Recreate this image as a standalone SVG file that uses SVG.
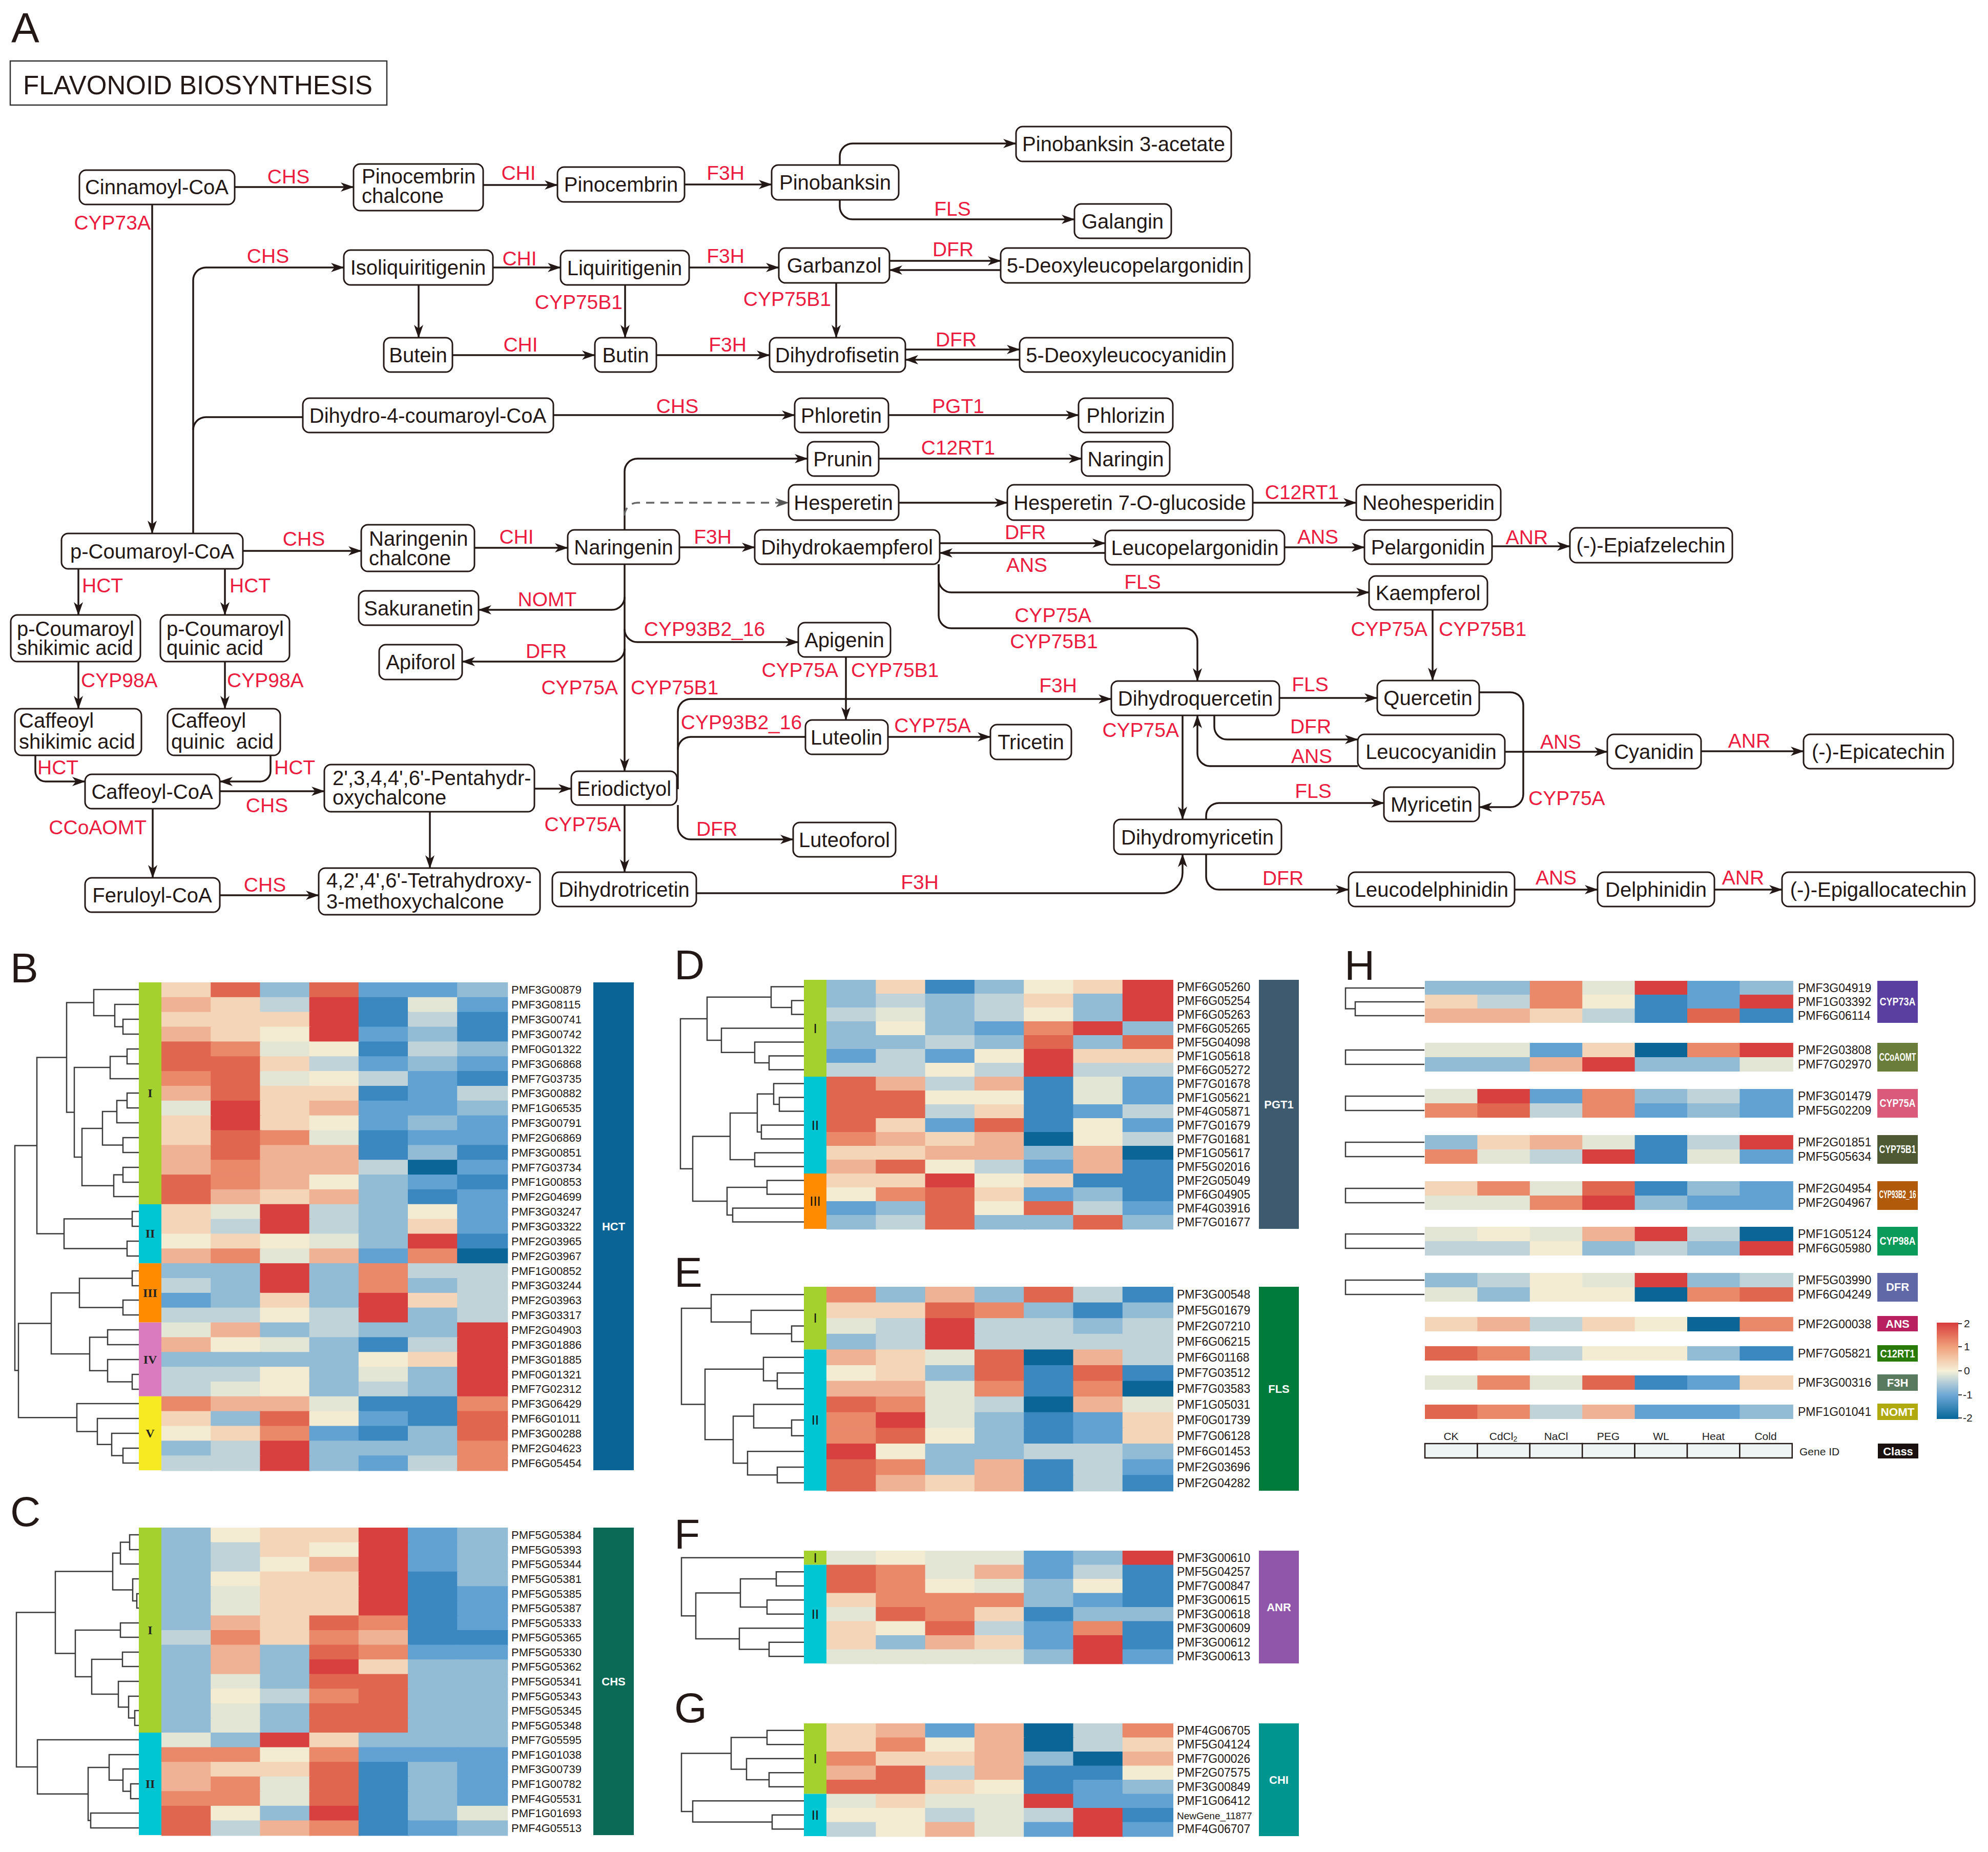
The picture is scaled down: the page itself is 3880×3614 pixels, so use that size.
<svg xmlns="http://www.w3.org/2000/svg" width="3880" height="3614" viewBox="0 0 3880 3614">
<style>
.nd rect{fill:#fff;stroke:#231815;stroke-width:3}
.t{font-family:"Liberation Sans",Arial,sans-serif;font-size:40px;fill:#231815;text-anchor:middle}
.tl{font-family:"Liberation Sans",Arial,sans-serif;font-size:40px;fill:#231815}
.e{fill:none;stroke:#231815;stroke-width:3.5;marker-end:url(#ar)}
.en{fill:none;stroke:#231815;stroke-width:3.5}
.ed{fill:none;stroke:#666;stroke-width:3.5;stroke-dasharray:16 12;marker-end:url(#ard)}
.lb,.lbr,.lbl{font-family:"Liberation Sans",Arial,sans-serif;font-size:39px;fill:#ec1c3f}
.lb{text-anchor:middle}.lbr{text-anchor:end}
.pl{font-family:"Liberation Sans",Arial,sans-serif;font-size:82px;fill:#231815}
.dg{fill:none;stroke:#3a3a3a;stroke-width:2.5}
.g{font-family:"Liberation Sans",Arial,sans-serif;font-size:22px;fill:#231815}
.g2{font-family:"Liberation Sans",Arial,sans-serif;font-size:23px;fill:#231815}
.cb{font-family:"Liberation Sans",Arial,sans-serif;font-size:22px;font-weight:bold;fill:#fff;text-anchor:middle}
.rn{font-family:"Liberation Serif",serif;font-size:24px;font-weight:bold;fill:#222;text-anchor:middle}
.rs{font-family:"Liberation Sans",Arial,sans-serif;font-size:26px;fill:#111;text-anchor:middle}
.lg{font-family:"Liberation Sans",Arial,sans-serif;font-size:21px;fill:#222}
.A{fill:#0b6596}.B{fill:#3b88c0}.C{fill:#62a2d2}.D{fill:#92bbd6}.E{fill:#bfd3d9}.F{fill:#e3e5d5}
.G{fill:#f4ecd2}.H{fill:#f4d5b8}.I{fill:#f0b294}.J{fill:#e9896a}.K{fill:#e0664f}.L{fill:#d8403f}
</style>
<defs>
<marker id="ar" markerUnits="userSpaceOnUse" markerWidth="26" markerHeight="20" refX="25" refY="10" orient="auto"><path d="M0 1L26 10L0 19L7 10Z" fill="#231815"/></marker>
<marker id="ard" markerUnits="userSpaceOnUse" markerWidth="26" markerHeight="20" refX="25" refY="10" orient="auto"><path d="M0 1L26 10L0 19L7 10Z" fill="#555"/></marker>
<rect id="q" width="1.03" height="1.05"/>
<rect id="qh" width="1.02" height="28"/>
<linearGradient id="cbar" x1="0" y1="0" x2="0" y2="1">
<stop offset="0" stop-color="#d73c3c"/><stop offset="0.25" stop-color="#f0a07a"/><stop offset="0.5" stop-color="#f5f0d8"/><stop offset="0.75" stop-color="#6fa8d6"/><stop offset="1" stop-color="#05679a"/>
</linearGradient>
</defs>
<rect width="3880" height="3614" fill="#fff"/>

<text class="pl" x="22" y="82">A</text>
<g id="title"><rect x="20" y="119" width="735" height="86" fill="#fff" stroke="#333" stroke-width="2.5"/>
<text x="45" y="184" font-family="Liberation Sans, Arial, sans-serif" font-size="51" fill="#231815">FLAVONOID BIOSYNTHESIS</text></g>

<g id="connectors">
<path class="e" d="M458 365H690"/>
<path class="e" d="M943 361H1088"/>
<path class="e" d="M1336 360H1506"/>
<path class="e" d="M1639 322V305A25 25 0 0 1 1664 280H1983"/>
<path class="e" d="M1639 390V403A25 25 0 0 0 1664 428H2097"/>
<path class="e" d="M297 399V1041"/>
<path class="e" d="M377 1041V547A25 25 0 0 1 402 522H671"/>
<path class="en" d="M377 839A25 25 0 0 1 402 814H591"/>
<path class="e" d="M1080 810H1551"/>
<path class="e" d="M962 522H1094"/>
<path class="e" d="M817 556V659"/>
<path class="e" d="M1220 556V659"/>
<path class="e" d="M1345 522H1520"/>
<path class="e" d="M1736 509H1953"/>
<path class="e" d="M1953 527H1736"/>
<path class="e" d="M1632 552V659"/>
<path class="e" d="M883 693H1161"/>
<path class="e" d="M1281 693H1502"/>
<path class="e" d="M1767 682H1990"/>
<path class="e" d="M1990 702H1767"/>
<path class="e" d="M1734 810H2105"/>
<path class="e" d="M1219 1034V920A25 25 0 0 1 1244 895H1576"/>
<path class="e" d="M1715 895H2111"/>
<path class="ed" d="M1219 1006A25 25 0 0 1 1244 981H1539"/>
<path class="e" d="M1754 981H1966"/>
<path class="e" d="M2445 981H2647"/>
<path class="e" d="M474 1075H705"/>
<path class="e" d="M926 1069H1108"/>
<path class="e" d="M1326 1068H1473"/>
<path class="e" d="M1834 1060H2157"/>
<path class="e" d="M2157 1079H1834"/>
<path class="e" d="M2507 1068H2663"/>
<path class="e" d="M2912 1066H3064"/>
<path class="e" d="M1832 1101V1131A25 25 0 0 0 1857 1156H2672"/>
<path class="e" d="M1832 1101V1201A25 25 0 0 0 1857 1226H2312A25 25 0 0 1 2337 1251V1329"/>
<path class="e" d="M2796 1190V1328"/>
<path class="e" d="M2497 1362H2688"/>
<path class="e" d="M1219 1101V1505"/>
<path class="e" d="M1219 1165A25 25 0 0 1 1194 1190H934"/>
<path class="e" d="M1219 1266A25 25 0 0 1 1194 1291H902"/>
<path class="e" d="M1219 1228A25 25 0 0 0 1244 1253H1558"/>
<path class="e" d="M1651 1282V1405"/>
<path class="e" d="M1323 1540V1389A25 25 0 0 1 1348 1364H2169"/>
<path class="en" d="M1323 1463A25 25 0 0 1 1348 1438H1572"/>
<path class="e" d="M1323 1571V1613A25 25 0 0 0 1348 1638H1548"/>
<path class="e" d="M1733 1438H1933"/>
<path class="e" d="M1219 1571V1702"/>
<path class="e" d="M1043 1539H1115"/>
<path class="e" d="M429 1544H633"/>
<path class="e" d="M839 1584V1694"/>
<path class="e" d="M298 1578V1713"/>
<path class="e" d="M429 1747H622"/>
<path class="e" d="M1359 1743H2268A40 40 0 0 0 2308 1703V1667"/>
<path class="e" d="M2308 1396V1599"/>
<path class="e" d="M2370 1396V1418A25 25 0 0 0 2395 1443H2650"/>
<path class="e" d="M2650 1495H2362A25 25 0 0 1 2337 1470V1396"/>
<path class="e" d="M2887 1351H2948A25 25 0 0 1 2973 1376V1550A25 25 0 0 1 2948 1575H2887"/>
<path class="e" d="M2354 1599V1592A25 25 0 0 1 2379 1567H2701"/>
<path class="e" d="M2937 1467H3137"/>
<path class="e" d="M3320 1466H3520"/>
<path class="e" d="M2354 1667V1711A25 25 0 0 0 2379 1736H2632"/>
<path class="e" d="M2956 1736H3118"/>
<path class="e" d="M3346 1736H3478"/>
<path class="e" d="M153 1110V1200"/>
<path class="e" d="M439 1110V1200"/>
<path class="e" d="M153 1291V1383"/>
<path class="e" d="M439 1291V1383"/>
<path class="e" d="M69 1474V1505A20 20 0 0 0 89 1525H166"/>
<path class="e" d="M528 1474V1505A20 20 0 0 1 508 1525H429"/>
<text class="lb" x="563" y="358">CHS</text>
<text class="lb" x="1012" y="351">CHI</text>
<text class="lb" x="1416" y="351">F3H</text>
<text class="lb" x="1859" y="421">FLS</text>
<text class="lbr" x="294" y="448">CYP73A</text>
<text class="lb" x="523" y="513">CHS</text>
<text class="lb" x="1322" y="806">CHS</text>
<text class="lb" x="1014" y="518">CHI</text>
<text class="lbr" x="1215" y="603">CYP75B1</text>
<text class="lb" x="1416" y="513">F3H</text>
<text class="lb" x="1860" y="500">DFR</text>
<text class="lbr" x="1622" y="597">CYP75B1</text>
<text class="lb" x="1016" y="686">CHI</text>
<text class="lb" x="1420" y="686">F3H</text>
<text class="lb" x="1866" y="676">DFR</text>
<text class="lb" x="1870" y="806">PGT1</text>
<text class="lb" x="1870" y="887">C12RT1</text>
<text class="lb" x="2541" y="974">C12RT1</text>
<text class="lb" x="593" y="1065">CHS</text>
<text class="lb" x="1008" y="1061">CHI</text>
<text class="lb" x="1391" y="1061">F3H</text>
<text class="lb" x="2001" y="1052">DFR</text>
<text class="lb" x="2004" y="1116">ANS</text>
<text class="lb" x="2572" y="1061">ANS</text>
<text class="lb" x="2980" y="1062">ANR</text>
<text class="lb" x="2230" y="1149">FLS</text>
<text class="lb" x="2055" y="1214">CYP75A</text>
<text class="lb" x="2057" y="1265">CYP75B1</text>
<text class="lbr" x="2786" y="1241">CYP75A</text>
<text class="lbl" x="2808" y="1241">CYP75B1</text>
<text class="lb" x="2557" y="1349">FLS</text>
<text class="lbr" x="1206" y="1355">CYP75A</text>
<text class="lbl" x="1231" y="1355">CYP75B1</text>
<text class="lb" x="1068" y="1183">NOMT</text>
<text class="lb" x="1066" y="1284">DFR</text>
<text class="lb" x="1375" y="1241">CYP93B2_16</text>
<text class="lbr" x="1636" y="1321">CYP75A</text>
<text class="lbl" x="1661" y="1321">CYP75B1</text>
<text class="lb" x="2065" y="1351">F3H</text>
<text class="lb" x="1447" y="1423">CYP93B2_16</text>
<text class="lb" x="1399" y="1631">DFR</text>
<text class="lb" x="1820" y="1429">CYP75A</text>
<text class="lbr" x="1212" y="1622">CYP75A</text>
<text class="lb" x="521" y="1585">CHS</text>
<text class="lbr" x="286" y="1628">CCoAOMT</text>
<text class="lb" x="517" y="1740">CHS</text>
<text class="lb" x="1795" y="1735">F3H</text>
<text class="lbr" x="2301" y="1438">CYP75A</text>
<text class="lb" x="2558" y="1431">DFR</text>
<text class="lb" x="2560" y="1489">ANS</text>
<text class="lbl" x="2983" y="1571">CYP75A</text>
<text class="lb" x="2563" y="1557">FLS</text>
<text class="lb" x="3046" y="1461">ANS</text>
<text class="lb" x="3414" y="1459">ANR</text>
<text class="lb" x="2504" y="1727">DFR</text>
<text class="lb" x="3037" y="1726">ANS</text>
<text class="lb" x="3402" y="1726">ANR</text>
<text class="lbl" x="160" y="1156">HCT</text>
<text class="lbl" x="448" y="1156">HCT</text>
<text class="lbl" x="158" y="1341">CYP98A</text>
<text class="lbl" x="443" y="1341">CYP98A</text>
<text class="lbl" x="73" y="1511">HCT</text>
<text class="lbl" x="535" y="1511">HCT</text>
</g>

<g class="nd">
<g id="n1"><rect x="155" y="332" width="303" height="67" rx="13"/><text class="t" x="306" y="379">Cinnamoyl-CoA</text></g>
<g id="n2"><rect x="690" y="320" width="253" height="91" rx="13"/><text class="tl" x="706" y="358">Pinocembrin<tspan x="706" dy="38">chalcone</tspan></text></g>
<g id="n3"><rect x="1088" y="326" width="248" height="68" rx="13"/><text class="t" x="1212" y="374">Pinocembrin</text></g>
<g id="n4"><rect x="1506" y="322" width="248" height="68" rx="13"/><text class="t" x="1630" y="370">Pinobanksin</text></g>
<g id="n5"><rect x="1983" y="247" width="420" height="68" rx="13"/><text class="t" x="2193" y="295">Pinobanksin 3-acetate</text></g>
<g id="n6"><rect x="2097" y="398" width="189" height="67" rx="13"/><text class="t" x="2191" y="446">Galangin</text></g>
<g id="n7"><rect x="671" y="488" width="291" height="68" rx="13"/><text class="t" x="816" y="536">Isoliquiritigenin</text></g>
<g id="n8"><rect x="1094" y="489" width="251" height="67" rx="13"/><text class="t" x="1219" y="537">Liquiritigenin</text></g>
<g id="n9"><rect x="1520" y="484" width="216" height="68" rx="13"/><text class="t" x="1628" y="532">Garbanzol</text></g>
<g id="n10"><rect x="1953" y="484" width="486" height="68" rx="13"/><text class="t" x="2196" y="532">5-Deoxyleucopelargonidin</text></g>
<g id="n11"><rect x="749" y="659" width="134" height="67" rx="13"/><text class="t" x="816" y="707">Butein</text></g>
<g id="n12"><rect x="1161" y="659" width="120" height="67" rx="13"/><text class="t" x="1221" y="707">Butin</text></g>
<g id="n13"><rect x="1502" y="659" width="265" height="67" rx="13"/><text class="t" x="1634" y="707">Dihydrofisetin</text></g>
<g id="n14"><rect x="1990" y="659" width="416" height="67" rx="13"/><text class="t" x="2198" y="707">5-Deoxyleucocyanidin</text></g>
<g id="n15"><rect x="591" y="777" width="489" height="67" rx="13"/><text class="t" x="835" y="825">Dihydro-4-coumaroyl-CoA</text></g>
<g id="n16"><rect x="1551" y="777" width="183" height="67" rx="13"/><text class="t" x="1642" y="825">Phloretin</text></g>
<g id="n17"><rect x="2105" y="777" width="184" height="67" rx="13"/><text class="t" x="2197" y="825">Phlorizin</text></g>
<g id="n18"><rect x="1576" y="862" width="139" height="67" rx="13"/><text class="t" x="1645" y="910">Prunin</text></g>
<g id="n19"><rect x="2111" y="862" width="172" height="67" rx="13"/><text class="t" x="2197" y="910">Naringin</text></g>
<g id="n20"><rect x="1539" y="946" width="215" height="69" rx="13"/><text class="t" x="1646" y="995">Hesperetin</text></g>
<g id="n21"><rect x="1966" y="946" width="479" height="69" rx="13"/><text class="t" x="2205" y="995">Hesperetin 7-O-glucoside</text></g>
<g id="n22"><rect x="2647" y="946" width="282" height="69" rx="13"/><text class="t" x="2788" y="995">Neohesperidin</text></g>
<g id="n23"><rect x="120" y="1041" width="354" height="69" rx="13"/><text class="t" x="297" y="1090">p-Coumaroyl-CoA</text></g>
<g id="n24"><rect x="705" y="1024" width="221" height="91" rx="13"/><text class="tl" x="720" y="1065">Naringenin<tspan x="720" dy="38">chalcone</tspan></text></g>
<g id="n25"><rect x="1108" y="1034" width="218" height="67" rx="13"/><text class="t" x="1217" y="1082">Naringenin</text></g>
<g id="n26"><rect x="1473" y="1034" width="361" height="67" rx="13"/><text class="t" x="1653" y="1082">Dihydrokaempferol</text></g>
<g id="n27"><rect x="2157" y="1035" width="350" height="67" rx="13"/><text class="t" x="2332" y="1083">Leucopelargonidin</text></g>
<g id="n28"><rect x="2663" y="1034" width="249" height="67" rx="13"/><text class="t" x="2787" y="1082">Pelargonidin</text></g>
<g id="n29"><rect x="3064" y="1030" width="317" height="68" rx="13"/><text class="t" x="3222" y="1078">(-)-Epiafzelechin</text></g>
<g id="n30"><rect x="2672" y="1124" width="231" height="66" rx="13"/><text class="t" x="2787" y="1171">Kaempferol</text></g>
<g id="n31"><rect x="21" y="1200" width="253" height="91" rx="13"/><text class="tl" x="33" y="1241">p-Coumaroyl<tspan x="33" dy="37">shikimic acid</tspan></text></g>
<g id="n32"><rect x="313" y="1200" width="252" height="91" rx="13"/><text class="tl" x="325" y="1241">p-Coumaroyl<tspan x="325" dy="37">quinic acid</tspan></text></g>
<g id="n33"><rect x="700" y="1153" width="234" height="67" rx="13"/><text class="t" x="817" y="1201">Sakuranetin</text></g>
<g id="n34"><rect x="740" y="1258" width="162" height="68" rx="13"/><text class="t" x="821" y="1306">Apiforol</text></g>
<g id="n35"><rect x="1558" y="1215" width="180" height="67" rx="13"/><text class="t" x="1648" y="1263">Apigenin</text></g>
<g id="n36"><rect x="2169" y="1329" width="328" height="67" rx="13"/><text class="t" x="2333" y="1377">Dihydroquercetin</text></g>
<g id="n37"><rect x="2688" y="1328" width="199" height="68" rx="13"/><text class="t" x="2787" y="1376">Quercetin</text></g>
<g id="n38"><rect x="29" y="1383" width="247" height="91" rx="13"/><text class="tl" x="37" y="1420">Caffeoyl<tspan x="37" dy="41">shikimic acid</tspan></text></g>
<g id="n39"><rect x="327" y="1383" width="220" height="91" rx="13"/><text class="tl" x="334" y="1420" xml:space="preserve">Caffeoyl<tspan x="334" dy="41">quinic  acid</tspan></text></g>
<g id="n40"><rect x="1572" y="1405" width="161" height="67" rx="13"/><text class="t" x="1652" y="1453">Luteolin</text></g>
<g id="n41"><rect x="1933" y="1414" width="158" height="68" rx="13"/><text class="t" x="2012" y="1462">Tricetin</text></g>
<g id="n42"><rect x="2650" y="1433" width="287" height="67" rx="13"/><text class="t" x="2793" y="1481">Leucocyanidin</text></g>
<g id="n43"><rect x="3137" y="1433" width="183" height="67" rx="13"/><text class="t" x="3228" y="1481">Cyanidin</text></g>
<g id="n44"><rect x="3520" y="1433" width="292" height="67" rx="13"/><text class="t" x="3666" y="1481">(-)-Epicatechin</text></g>
<g id="n45"><rect x="166" y="1511" width="263" height="67" rx="13"/><text class="t" x="297" y="1559">Caffeoyl-CoA</text></g>
<g id="n46"><rect x="633" y="1492" width="410" height="92" rx="13"/><text class="tl" x="649" y="1532">2',3,4,4',6'-Pentahydr-<tspan x="649" dy="38">oxychalcone</tspan></text></g>
<g id="n47"><rect x="1115" y="1505" width="206" height="66" rx="13"/><text class="t" x="1218" y="1553">Eriodictyol</text></g>
<g id="n48"><rect x="2701" y="1536" width="186" height="67" rx="13"/><text class="t" x="2794" y="1584">Myricetin</text></g>
<g id="n49"><rect x="2174" y="1599" width="327" height="68" rx="13"/><text class="t" x="2337" y="1648">Dihydromyricetin</text></g>
<g id="n50"><rect x="1548" y="1605" width="200" height="67" rx="13"/><text class="t" x="1648" y="1653">Luteoforol</text></g>
<g id="n51"><rect x="166" y="1713" width="263" height="67" rx="13"/><text class="t" x="297" y="1761">Feruloyl-CoA</text></g>
<g id="n52"><rect x="622" y="1694" width="432" height="91" rx="13"/><text class="tl" x="637" y="1732">4,2',4',6'-Tetrahydroxy-<tspan x="637" dy="41">3-methoxychalcone</tspan></text></g>
<g id="n53"><rect x="1078" y="1702" width="281" height="67" rx="13"/><text class="t" x="1218" y="1750">Dihydrotricetin</text></g>
<g id="n54"><rect x="2632" y="1702" width="324" height="67" rx="13"/><text class="t" x="2794" y="1750">Leucodelphinidin</text></g>
<g id="n55"><rect x="3118" y="1702" width="228" height="67" rx="13"/><text class="t" x="3232" y="1750">Delphinidin</text></g>
<g id="n56"><rect x="3478" y="1702" width="376" height="67" rx="13"/><text class="t" x="3666" y="1750">(-)-Epigallocatechin</text></g>
</g>

<g id="panelB">
<text class="pl" x="20" y="1917">B</text>
<path class="dg" d="M271 1989H240V2018H271M271 1960H224V2003.5H240M271 1931H183V1982H224M271 2047H248V2076H271M248 2061.5H215V2105H271M271 2133H248V2162H271M248 2147.5H228V2191H271M271 2220H240V2249H271M228 2169H200V2234.5H240M271 2278H240V2307H271M240 2292.5H222V2335H271M200 2202H160V2313.75H222M215 2083H145V2258H160M183 1956.5H130V2170.5H145M271 2364H258V2393H271M271 2422H248V2451H271M258 2378.5H125V2436.5H248M130 2063.5H72V2407.5H125M271 2480H258V2509H271M271 2537H240V2566H271M258 2494.5H155V2551.5H240M271 2595H210V2624H271M271 2682H258V2711H271M271 2653H210V2696.5H258M210 2609.5H175V2674.75H210M155 2523H100V2642H175M271 2826H240V2855H271M271 2797H218V2840.5H240M271 2768H190V2818.75H218M271 2739H150V2793.4H190M100 2582.5H36V2766.2H150M72 2235.5H29V2674.35H36"/>
<rect x="271" y="1917" width="44" height="433" fill="#a4d12d"/>
<rect x="271" y="2350" width="44" height="115.4" fill="#00c6d4"/>
<rect x="271" y="2465.2" width="44" height="115.4" fill="#ff8c00"/>
<rect x="271" y="2580.6" width="44" height="144.2" fill="#d97bbe"/>
<rect x="271" y="2724.8" width="44" height="144.3" fill="#f7ea23"/>
<text class="rn" x="293" y="2141">I</text><text class="rn" x="293" y="2415">II</text><text class="rn" x="293" y="2531">III</text><text class="rn" x="293" y="2661">IV</text><text class="rn" x="293" y="2805">V</text>
<g transform="translate(315 1917) scale(96.2 28.85)">
<use href="#q" y="0" class="H"/><use href="#q" x="1" y="0" class="K"/><use href="#q" x="2" y="0" class="D"/><use href="#q" x="3" y="0" class="K"/><use href="#q" x="4" y="0" class="C"/><use href="#q" x="5" y="0" class="C"/><use href="#q" x="6" y="0" class="D"/>
<use href="#q" y="1" class="I"/><use href="#q" x="1" y="1" class="H"/><use href="#q" x="2" y="1" class="E"/><use href="#q" x="3" y="1" class="L"/><use href="#q" x="4" y="1" class="B"/><use href="#q" x="5" y="1" class="F"/><use href="#q" x="6" y="1" class="C"/>
<use href="#q" y="2" class="H"/><use href="#q" x="1" y="2" class="H"/><use href="#q" x="2" y="2" class="H"/><use href="#q" x="3" y="2" class="L"/><use href="#q" x="4" y="2" class="B"/><use href="#q" x="5" y="2" class="E"/><use href="#q" x="6" y="2" class="B"/>
<use href="#q" y="3" class="I"/><use href="#q" x="1" y="3" class="H"/><use href="#q" x="2" y="3" class="G"/><use href="#q" x="3" y="3" class="L"/><use href="#q" x="4" y="3" class="C"/><use href="#q" x="5" y="3" class="D"/><use href="#q" x="6" y="3" class="B"/>
<use href="#q" y="4" class="K"/><use href="#q" x="1" y="4" class="J"/><use href="#q" x="2" y="4" class="F"/><use href="#q" x="3" y="4" class="G"/><use href="#q" x="4" y="4" class="B"/><use href="#q" x="5" y="4" class="E"/><use href="#q" x="6" y="4" class="D"/>
<use href="#q" y="5" class="K"/><use href="#q" x="1" y="5" class="K"/><use href="#q" x="2" y="5" class="H"/><use href="#q" x="3" y="5" class="E"/><use href="#q" x="4" y="5" class="C"/><use href="#q" x="5" y="5" class="D"/><use href="#q" x="6" y="5" class="C"/>
<use href="#q" y="6" class="J"/><use href="#q" x="1" y="6" class="K"/><use href="#q" x="2" y="6" class="F"/><use href="#q" x="3" y="6" class="G"/><use href="#q" x="4" y="6" class="E"/><use href="#q" x="5" y="6" class="C"/><use href="#q" x="6" y="6" class="B"/>
<use href="#q" y="7" class="I"/><use href="#q" x="1" y="7" class="K"/><use href="#q" x="2" y="7" class="H"/><use href="#q" x="3" y="7" class="H"/><use href="#q" x="4" y="7" class="B"/><use href="#q" x="5" y="7" class="C"/><use href="#q" x="6" y="7" class="E"/>
<use href="#q" y="8" class="F"/><use href="#q" x="1" y="8" class="L"/><use href="#q" x="2" y="8" class="H"/><use href="#q" x="3" y="8" class="I"/><use href="#q" x="4" y="8" class="C"/><use href="#q" x="5" y="8" class="C"/><use href="#q" x="6" y="8" class="D"/>
<use href="#q" y="9" class="H"/><use href="#q" x="1" y="9" class="L"/><use href="#q" x="2" y="9" class="H"/><use href="#q" x="3" y="9" class="G"/><use href="#q" x="4" y="9" class="C"/><use href="#q" x="5" y="9" class="D"/><use href="#q" x="6" y="9" class="C"/>
<use href="#q" y="10" class="H"/><use href="#q" x="1" y="10" class="K"/><use href="#q" x="2" y="10" class="J"/><use href="#q" x="3" y="10" class="F"/><use href="#q" x="4" y="10" class="B"/><use href="#q" x="5" y="10" class="C"/><use href="#q" x="6" y="10" class="C"/>
<use href="#q" y="11" class="I"/><use href="#q" x="1" y="11" class="K"/><use href="#q" x="2" y="11" class="I"/><use href="#q" x="3" y="11" class="I"/><use href="#q" x="4" y="11" class="B"/><use href="#q" x="5" y="11" class="D"/><use href="#q" x="6" y="11" class="B"/>
<use href="#q" y="12" class="I"/><use href="#q" x="1" y="12" class="J"/><use href="#q" x="2" y="12" class="I"/><use href="#q" x="3" y="12" class="I"/><use href="#q" x="4" y="12" class="E"/><use href="#q" x="5" y="12" class="A"/><use href="#q" x="6" y="12" class="C"/>
<use href="#q" y="13" class="K"/><use href="#q" x="1" y="13" class="J"/><use href="#q" x="2" y="13" class="I"/><use href="#q" x="3" y="13" class="G"/><use href="#q" x="4" y="13" class="D"/><use href="#q" x="5" y="13" class="C"/><use href="#q" x="6" y="13" class="B"/>
<use href="#q" y="14" class="K"/><use href="#q" x="1" y="14" class="I"/><use href="#q" x="2" y="14" class="H"/><use href="#q" x="3" y="14" class="I"/><use href="#q" x="4" y="14" class="D"/><use href="#q" x="5" y="14" class="B"/><use href="#q" x="6" y="14" class="C"/>
<use href="#q" y="15" class="H"/><use href="#q" x="1" y="15" class="F"/><use href="#q" x="2" y="15" class="L"/><use href="#q" x="3" y="15" class="E"/><use href="#q" x="4" y="15" class="D"/><use href="#q" x="5" y="15" class="G"/><use href="#q" x="6" y="15" class="C"/>
<use href="#q" y="16" class="H"/><use href="#q" x="1" y="16" class="E"/><use href="#q" x="2" y="16" class="L"/><use href="#q" x="3" y="16" class="E"/><use href="#q" x="4" y="16" class="D"/><use href="#q" x="5" y="16" class="H"/><use href="#q" x="6" y="16" class="C"/>
<use href="#q" y="17" class="G"/><use href="#q" x="1" y="17" class="H"/><use href="#q" x="2" y="17" class="G"/><use href="#q" x="3" y="17" class="F"/><use href="#q" x="4" y="17" class="D"/><use href="#q" x="5" y="17" class="L"/><use href="#q" x="6" y="17" class="B"/>
<use href="#q" y="18" class="I"/><use href="#q" x="1" y="18" class="J"/><use href="#q" x="2" y="18" class="F"/><use href="#q" x="3" y="18" class="I"/><use href="#q" x="4" y="18" class="C"/><use href="#q" x="5" y="18" class="J"/><use href="#q" x="6" y="18" class="A"/>
<use href="#q" y="19" class="D"/><use href="#q" x="1" y="19" class="D"/><use href="#q" x="2" y="19" class="L"/><use href="#q" x="3" y="19" class="D"/><use href="#q" x="4" y="19" class="J"/><use href="#q" x="5" y="19" class="E"/><use href="#q" x="6" y="19" class="E"/>
<use href="#q" y="20" class="E"/><use href="#q" x="1" y="20" class="D"/><use href="#q" x="2" y="20" class="L"/><use href="#q" x="3" y="20" class="D"/><use href="#q" x="4" y="20" class="J"/><use href="#q" x="5" y="20" class="D"/><use href="#q" x="6" y="20" class="E"/>
<use href="#q" y="21" class="C"/><use href="#q" x="1" y="21" class="D"/><use href="#q" x="2" y="21" class="H"/><use href="#q" x="3" y="21" class="D"/><use href="#q" x="4" y="21" class="L"/><use href="#q" x="5" y="21" class="H"/><use href="#q" x="6" y="21" class="E"/>
<use href="#q" y="22" class="E"/><use href="#q" x="1" y="22" class="E"/><use href="#q" x="2" y="22" class="G"/><use href="#q" x="3" y="22" class="E"/><use href="#q" x="4" y="22" class="L"/><use href="#q" x="5" y="22" class="D"/><use href="#q" x="6" y="22" class="E"/>
<use href="#q" y="23" class="F"/><use href="#q" x="1" y="23" class="I"/><use href="#q" x="2" y="23" class="D"/><use href="#q" x="3" y="23" class="E"/><use href="#q" x="4" y="23" class="D"/><use href="#q" x="5" y="23" class="D"/><use href="#q" x="6" y="23" class="L"/>
<use href="#q" y="24" class="I"/><use href="#q" x="1" y="24" class="G"/><use href="#q" x="2" y="24" class="F"/><use href="#q" x="3" y="24" class="D"/><use href="#q" x="4" y="24" class="B"/><use href="#q" x="5" y="24" class="E"/><use href="#q" x="6" y="24" class="L"/>
<use href="#q" y="25" class="D"/><use href="#q" x="1" y="25" class="D"/><use href="#q" x="2" y="25" class="D"/><use href="#q" x="3" y="25" class="D"/><use href="#q" x="4" y="25" class="G"/><use href="#q" x="5" y="25" class="H"/><use href="#q" x="6" y="25" class="L"/>
<use href="#q" y="26" class="E"/><use href="#q" x="1" y="26" class="E"/><use href="#q" x="2" y="26" class="G"/><use href="#q" x="3" y="26" class="D"/><use href="#q" x="4" y="26" class="F"/><use href="#q" x="5" y="26" class="D"/><use href="#q" x="6" y="26" class="L"/>
<use href="#q" y="27" class="E"/><use href="#q" x="1" y="27" class="F"/><use href="#q" x="2" y="27" class="G"/><use href="#q" x="3" y="27" class="D"/><use href="#q" x="4" y="27" class="E"/><use href="#q" x="5" y="27" class="D"/><use href="#q" x="6" y="27" class="L"/>
<use href="#q" y="28" class="J"/><use href="#q" x="1" y="28" class="I"/><use href="#q" x="2" y="28" class="I"/><use href="#q" x="3" y="28" class="F"/><use href="#q" x="4" y="28" class="B"/><use href="#q" x="5" y="28" class="B"/><use href="#q" x="6" y="28" class="J"/>
<use href="#q" y="29" class="H"/><use href="#q" x="1" y="29" class="D"/><use href="#q" x="2" y="29" class="K"/><use href="#q" x="3" y="29" class="G"/><use href="#q" x="4" y="29" class="C"/><use href="#q" x="5" y="29" class="B"/><use href="#q" x="6" y="29" class="K"/>
<use href="#q" y="30" class="G"/><use href="#q" x="1" y="30" class="H"/><use href="#q" x="2" y="30" class="J"/><use href="#q" x="3" y="30" class="C"/><use href="#q" x="4" y="30" class="B"/><use href="#q" x="5" y="30" class="D"/><use href="#q" x="6" y="30" class="K"/>
<use href="#q" y="31" class="D"/><use href="#q" x="1" y="31" class="E"/><use href="#q" x="2" y="31" class="L"/><use href="#q" x="3" y="31" class="D"/><use href="#q" x="4" y="31" class="D"/><use href="#q" x="5" y="31" class="D"/><use href="#q" x="6" y="31" class="J"/>
<use href="#q" y="32" class="E"/><use href="#q" x="1" y="32" class="E"/><use href="#q" x="2" y="32" class="L"/><use href="#q" x="3" y="32" class="D"/><use href="#q" x="4" y="32" class="C"/><use href="#q" x="5" y="32" class="E"/><use href="#q" x="6" y="32" class="J"/>
</g>
<text class="g" x="998" y="1939.4"><tspan x="998">PMF3G00879</tspan><tspan x="998" dy="28.85">PMF3G08115</tspan><tspan x="998" dy="28.85">PMF3G00741</tspan><tspan x="998" dy="28.85">PMF3G00742</tspan><tspan x="998" dy="28.85">PMF0G01322</tspan><tspan x="998" dy="28.85">PMF3G06868</tspan><tspan x="998" dy="28.85">PMF7G03735</tspan><tspan x="998" dy="28.85">PMF3G00882</tspan><tspan x="998" dy="28.85">PMF1G06535</tspan><tspan x="998" dy="28.85">PMF3G00791</tspan><tspan x="998" dy="28.85">PMF2G06869</tspan><tspan x="998" dy="28.85">PMF3G00851</tspan><tspan x="998" dy="28.85">PMF7G03734</tspan><tspan x="998" dy="28.85">PMF1G00853</tspan><tspan x="998" dy="28.85">PMF2G04699</tspan><tspan x="998" dy="28.85">PMF3G03247</tspan><tspan x="998" dy="28.85">PMF3G03322</tspan><tspan x="998" dy="28.85">PMF2G03965</tspan><tspan x="998" dy="28.85">PMF2G03967</tspan><tspan x="998" dy="28.85">PMF1G00852</tspan><tspan x="998" dy="28.85">PMF3G03244</tspan><tspan x="998" dy="28.85">PMF2G03963</tspan><tspan x="998" dy="28.85">PMF3G03317</tspan><tspan x="998" dy="28.85">PMF2G04903</tspan><tspan x="998" dy="28.85">PMF3G01886</tspan><tspan x="998" dy="28.85">PMF3G01885</tspan><tspan x="998" dy="28.85">PMF0G01321</tspan><tspan x="998" dy="28.85">PMF7G02312</tspan><tspan x="998" dy="28.85">PMF3G06429</tspan><tspan x="998" dy="28.85">PMF6G01011</tspan><tspan x="998" dy="28.85">PMF3G00288</tspan><tspan x="998" dy="28.85">PMF2G04623</tspan><tspan x="998" dy="28.85">PMF6G05454</tspan></text>
<rect x="1158" y="1917" width="79" height="952" fill="#0b6496"/><text class="cb" x="1197.5" y="2401">HCT</text>
</g>

<g id="panelC">
<text class="pl" x="20" y="2978">C</text>
<path class="dg" d="M271 2995H253V3024H271M253 3009.5H235V3052H271M271 3110H267V3138H271M271 3081H259V3124H267M235 3030.75H220V3102.5H259M271 3167H235V3195H271M271 3224H239V3252H271M271 3338H263V3367H271M271 3310H251V3352.5H263M271 3281H231V3331.25H251M239 3238H179V3306.1H231M235 3181H147V3272H179M220 3066.6H108V3226.5H147M271 3481H255V3510H271M271 3452H240V3495.5H255M271 3424H213V3473.75H240M271 3538H177V3567H271M213 3448.9H172V3552.5H177M271 3395H73V3500.7H172M108 3146.6H32V3447.9H73"/>
<rect x="271" y="2981" width="44" height="400" fill="#a4d12d"/>
<rect x="271" y="3381" width="44" height="200" fill="#00c6d4"/>
<text class="rn" x="293" y="3189">I</text><text class="rn" x="293" y="3489">II</text>
<g transform="translate(315 2981) scale(96.2 28.57)">
<use href="#q" y="0" class="D"/><use href="#q" x="1" y="0" class="G"/><use href="#q" x="2" y="0" class="H"/><use href="#q" x="3" y="0" class="H"/><use href="#q" x="4" y="0" class="L"/><use href="#q" x="5" y="0" class="C"/><use href="#q" x="6" y="0" class="D"/>
<use href="#q" y="1" class="D"/><use href="#q" x="1" y="1" class="E"/><use href="#q" x="2" y="1" class="H"/><use href="#q" x="3" y="1" class="G"/><use href="#q" x="4" y="1" class="L"/><use href="#q" x="5" y="1" class="C"/><use href="#q" x="6" y="1" class="D"/>
<use href="#q" y="2" class="D"/><use href="#q" x="1" y="2" class="E"/><use href="#q" x="2" y="2" class="G"/><use href="#q" x="3" y="2" class="I"/><use href="#q" x="4" y="2" class="L"/><use href="#q" x="5" y="2" class="C"/><use href="#q" x="6" y="2" class="D"/>
<use href="#q" y="3" class="D"/><use href="#q" x="1" y="3" class="G"/><use href="#q" x="2" y="3" class="H"/><use href="#q" x="3" y="3" class="H"/><use href="#q" x="4" y="3" class="L"/><use href="#q" x="5" y="3" class="B"/><use href="#q" x="6" y="3" class="D"/>
<use href="#q" y="4" class="D"/><use href="#q" x="1" y="4" class="F"/><use href="#q" x="2" y="4" class="H"/><use href="#q" x="3" y="4" class="H"/><use href="#q" x="4" y="4" class="L"/><use href="#q" x="5" y="4" class="B"/><use href="#q" x="6" y="4" class="C"/>
<use href="#q" y="5" class="D"/><use href="#q" x="1" y="5" class="F"/><use href="#q" x="2" y="5" class="H"/><use href="#q" x="3" y="5" class="H"/><use href="#q" x="4" y="5" class="L"/><use href="#q" x="5" y="5" class="B"/><use href="#q" x="6" y="5" class="C"/>
<use href="#q" y="6" class="D"/><use href="#q" x="1" y="6" class="I"/><use href="#q" x="2" y="6" class="H"/><use href="#q" x="3" y="6" class="K"/><use href="#q" x="4" y="6" class="J"/><use href="#q" x="5" y="6" class="B"/><use href="#q" x="6" y="6" class="C"/>
<use href="#q" y="7" class="E"/><use href="#q" x="1" y="7" class="J"/><use href="#q" x="2" y="7" class="H"/><use href="#q" x="3" y="7" class="J"/><use href="#q" x="4" y="7" class="I"/><use href="#q" x="5" y="7" class="B"/><use href="#q" x="6" y="7" class="B"/>
<use href="#q" y="8" class="D"/><use href="#q" x="1" y="8" class="I"/><use href="#q" x="2" y="8" class="D"/><use href="#q" x="3" y="8" class="K"/><use href="#q" x="4" y="8" class="J"/><use href="#q" x="5" y="8" class="C"/><use href="#q" x="6" y="8" class="C"/>
<use href="#q" y="9" class="D"/><use href="#q" x="1" y="9" class="I"/><use href="#q" x="2" y="9" class="D"/><use href="#q" x="3" y="9" class="L"/><use href="#q" x="4" y="9" class="H"/><use href="#q" x="5" y="9" class="D"/><use href="#q" x="6" y="9" class="D"/>
<use href="#q" y="10" class="D"/><use href="#q" x="1" y="10" class="F"/><use href="#q" x="2" y="10" class="D"/><use href="#q" x="3" y="10" class="K"/><use href="#q" x="4" y="10" class="K"/><use href="#q" x="5" y="10" class="D"/><use href="#q" x="6" y="10" class="D"/>
<use href="#q" y="11" class="D"/><use href="#q" x="1" y="11" class="G"/><use href="#q" x="2" y="11" class="E"/><use href="#q" x="3" y="11" class="J"/><use href="#q" x="4" y="11" class="K"/><use href="#q" x="5" y="11" class="D"/><use href="#q" x="6" y="11" class="D"/>
<use href="#q" y="12" class="D"/><use href="#q" x="1" y="12" class="F"/><use href="#q" x="2" y="12" class="D"/><use href="#q" x="3" y="12" class="K"/><use href="#q" x="4" y="12" class="K"/><use href="#q" x="5" y="12" class="D"/><use href="#q" x="6" y="12" class="D"/>
<use href="#q" y="13" class="D"/><use href="#q" x="1" y="13" class="F"/><use href="#q" x="2" y="13" class="D"/><use href="#q" x="3" y="13" class="K"/><use href="#q" x="4" y="13" class="K"/><use href="#q" x="5" y="13" class="D"/><use href="#q" x="6" y="13" class="D"/>
<use href="#q" y="14" class="F"/><use href="#q" x="1" y="14" class="D"/><use href="#q" x="2" y="14" class="L"/><use href="#q" x="3" y="14" class="H"/><use href="#q" x="4" y="14" class="D"/><use href="#q" x="5" y="14" class="D"/><use href="#q" x="6" y="14" class="D"/>
<use href="#q" y="15" class="J"/><use href="#q" x="1" y="15" class="J"/><use href="#q" x="2" y="15" class="G"/><use href="#q" x="3" y="15" class="J"/><use href="#q" x="4" y="15" class="C"/><use href="#q" x="5" y="15" class="C"/><use href="#q" x="6" y="15" class="C"/>
<use href="#q" y="16" class="I"/><use href="#q" x="1" y="16" class="H"/><use href="#q" x="2" y="16" class="H"/><use href="#q" x="3" y="16" class="K"/><use href="#q" x="4" y="16" class="B"/><use href="#q" x="5" y="16" class="D"/><use href="#q" x="6" y="16" class="C"/>
<use href="#q" y="17" class="I"/><use href="#q" x="1" y="17" class="J"/><use href="#q" x="2" y="17" class="F"/><use href="#q" x="3" y="17" class="K"/><use href="#q" x="4" y="17" class="B"/><use href="#q" x="5" y="17" class="D"/><use href="#q" x="6" y="17" class="C"/>
<use href="#q" y="18" class="J"/><use href="#q" x="1" y="18" class="J"/><use href="#q" x="2" y="18" class="F"/><use href="#q" x="3" y="18" class="K"/><use href="#q" x="4" y="18" class="B"/><use href="#q" x="5" y="18" class="D"/><use href="#q" x="6" y="18" class="C"/>
<use href="#q" y="19" class="K"/><use href="#q" x="1" y="19" class="G"/><use href="#q" x="2" y="19" class="D"/><use href="#q" x="3" y="19" class="L"/><use href="#q" x="4" y="19" class="B"/><use href="#q" x="5" y="19" class="D"/><use href="#q" x="6" y="19" class="F"/>
<use href="#q" y="20" class="K"/><use href="#q" x="1" y="20" class="E"/><use href="#q" x="2" y="20" class="I"/><use href="#q" x="3" y="20" class="J"/><use href="#q" x="4" y="20" class="B"/><use href="#q" x="5" y="20" class="C"/><use href="#q" x="6" y="20" class="D"/>
</g>
<text class="g" x="998" y="3003.3"><tspan x="998">PMF5G05384</tspan><tspan x="998" dy="28.57">PMF5G05393</tspan><tspan x="998" dy="28.57">PMF5G05344</tspan><tspan x="998" dy="28.57">PMF5G05381</tspan><tspan x="998" dy="28.57">PMF5G05385</tspan><tspan x="998" dy="28.57">PMF5G05387</tspan><tspan x="998" dy="28.57">PMF5G05333</tspan><tspan x="998" dy="28.57">PMF5G05365</tspan><tspan x="998" dy="28.57">PMF5G05330</tspan><tspan x="998" dy="28.57">PMF5G05362</tspan><tspan x="998" dy="28.57">PMF5G05341</tspan><tspan x="998" dy="28.57">PMF5G05343</tspan><tspan x="998" dy="28.57">PMF5G05345</tspan><tspan x="998" dy="28.57">PMF5G05348</tspan><tspan x="998" dy="28.57">PMF7G05595</tspan><tspan x="998" dy="28.57">PMF1G01038</tspan><tspan x="998" dy="28.57">PMF3G00739</tspan><tspan x="998" dy="28.57">PMF1G00782</tspan><tspan x="998" dy="28.57">PMF4G05531</tspan><tspan x="998" dy="28.57">PMF1G01693</tspan><tspan x="998" dy="28.57">PMF4G05513</tspan></text>
<rect x="1158" y="2981" width="79" height="600" fill="#0a6a55"/><text class="cb" x="1197.5" y="3289">CHS</text>
</g>

<g id="panelD">
<text class="pl" x="1316" y="1911">D</text>
<path class="dg" d="M1569 1952.5H1545V1979.5H1569M1569 1925.5H1505V1966H1545M1569 2060.5H1501V2087.5H1569M1569 2033.5H1473V2074H1501M1569 2006.5H1408V2053.75H1473M1505 1945.75H1380V2030.1H1408M1569 2141.5H1521V2168.5H1569M1569 2114.5H1510V2155H1521M1569 2195.5H1486V2222.5H1569M1510 2134.75H1478V2209H1486M1569 2249.5H1473V2276.5H1569M1478 2171.9H1425V2263H1473M1569 2303.5H1497V2330.5H1569M1569 2357.5H1430V2384.5H1569M1497 2317H1419V2371H1430M1425 2217.4H1352V2344H1419M1380 1987.9H1328V2280.7H1352"/>
<rect x="1569" y="1912" width="44" height="189" fill="#a4d12d"/>
<rect x="1569" y="2101" width="44" height="189" fill="#00c6d4"/>
<rect x="1569" y="2290" width="44" height="108" fill="#ff8c00"/>
<text class="rs" x="1591" y="2016">I</text><text class="rs" x="1591" y="2205">II</text><text class="rs" x="1591" y="2353">III</text>
<g transform="translate(1613 1912) scale(96.3 27)">
<use href="#q" y="0" class="D"/><use href="#q" x="1" y="0" class="H"/><use href="#q" x="2" y="0" class="B"/><use href="#q" x="3" y="0" class="D"/><use href="#q" x="4" y="0" class="G"/><use href="#q" x="5" y="0" class="H"/><use href="#q" x="6" y="0" class="L"/>
<use href="#q" y="1" class="D"/><use href="#q" x="1" y="1" class="E"/><use href="#q" x="2" y="1" class="D"/><use href="#q" x="3" y="1" class="E"/><use href="#q" x="4" y="1" class="H"/><use href="#q" x="5" y="1" class="D"/><use href="#q" x="6" y="1" class="L"/>
<use href="#q" y="2" class="E"/><use href="#q" x="1" y="2" class="F"/><use href="#q" x="2" y="2" class="D"/><use href="#q" x="3" y="2" class="E"/><use href="#q" x="4" y="2" class="G"/><use href="#q" x="5" y="2" class="D"/><use href="#q" x="6" y="2" class="L"/>
<use href="#q" y="3" class="D"/><use href="#q" x="1" y="3" class="G"/><use href="#q" x="2" y="3" class="D"/><use href="#q" x="3" y="3" class="C"/><use href="#q" x="4" y="3" class="J"/><use href="#q" x="5" y="3" class="L"/><use href="#q" x="6" y="3" class="D"/>
<use href="#q" y="4" class="D"/><use href="#q" x="1" y="4" class="D"/><use href="#q" x="2" y="4" class="E"/><use href="#q" x="3" y="4" class="D"/><use href="#q" x="4" y="4" class="K"/><use href="#q" x="5" y="4" class="D"/><use href="#q" x="6" y="4" class="K"/>
<use href="#q" y="5" class="C"/><use href="#q" x="1" y="5" class="E"/><use href="#q" x="2" y="5" class="C"/><use href="#q" x="3" y="5" class="G"/><use href="#q" x="4" y="5" class="L"/><use href="#q" x="5" y="5" class="H"/><use href="#q" x="6" y="5" class="H"/>
<use href="#q" y="6" class="E"/><use href="#q" x="1" y="6" class="E"/><use href="#q" x="2" y="6" class="G"/><use href="#q" x="3" y="6" class="E"/><use href="#q" x="4" y="6" class="L"/><use href="#q" x="5" y="6" class="E"/><use href="#q" x="6" y="6" class="E"/>
<use href="#q" y="7" class="K"/><use href="#q" x="1" y="7" class="I"/><use href="#q" x="2" y="7" class="E"/><use href="#q" x="3" y="7" class="I"/><use href="#q" x="4" y="7" class="B"/><use href="#q" x="5" y="7" class="F"/><use href="#q" x="6" y="7" class="C"/>
<use href="#q" y="8" class="K"/><use href="#q" x="1" y="8" class="K"/><use href="#q" x="2" y="8" class="G"/><use href="#q" x="3" y="8" class="G"/><use href="#q" x="4" y="8" class="B"/><use href="#q" x="5" y="8" class="F"/><use href="#q" x="6" y="8" class="C"/>
<use href="#q" y="9" class="K"/><use href="#q" x="1" y="9" class="K"/><use href="#q" x="2" y="9" class="E"/><use href="#q" x="3" y="9" class="H"/><use href="#q" x="4" y="9" class="B"/><use href="#q" x="5" y="9" class="C"/><use href="#q" x="6" y="9" class="E"/>
<use href="#q" y="10" class="K"/><use href="#q" x="1" y="10" class="H"/><use href="#q" x="2" y="10" class="C"/><use href="#q" x="3" y="10" class="K"/><use href="#q" x="4" y="10" class="B"/><use href="#q" x="5" y="10" class="G"/><use href="#q" x="6" y="10" class="C"/>
<use href="#q" y="11" class="J"/><use href="#q" x="1" y="11" class="I"/><use href="#q" x="2" y="11" class="H"/><use href="#q" x="3" y="11" class="I"/><use href="#q" x="4" y="11" class="A"/><use href="#q" x="5" y="11" class="G"/><use href="#q" x="6" y="11" class="E"/>
<use href="#q" y="12" class="H"/><use href="#q" x="1" y="12" class="H"/><use href="#q" x="2" y="12" class="I"/><use href="#q" x="3" y="12" class="I"/><use href="#q" x="4" y="12" class="D"/><use href="#q" x="5" y="12" class="I"/><use href="#q" x="6" y="12" class="A"/>
<use href="#q" y="13" class="I"/><use href="#q" x="1" y="13" class="K"/><use href="#q" x="2" y="13" class="G"/><use href="#q" x="3" y="13" class="E"/><use href="#q" x="4" y="13" class="C"/><use href="#q" x="5" y="13" class="I"/><use href="#q" x="6" y="13" class="B"/>
<use href="#q" y="14" class="H"/><use href="#q" x="1" y="14" class="H"/><use href="#q" x="2" y="14" class="L"/><use href="#q" x="3" y="14" class="G"/><use href="#q" x="4" y="14" class="H"/><use href="#q" x="5" y="14" class="B"/><use href="#q" x="6" y="14" class="B"/>
<use href="#q" y="15" class="G"/><use href="#q" x="1" y="15" class="J"/><use href="#q" x="2" y="15" class="K"/><use href="#q" x="3" y="15" class="H"/><use href="#q" x="4" y="15" class="C"/><use href="#q" x="5" y="15" class="D"/><use href="#q" x="6" y="15" class="B"/>
<use href="#q" y="16" class="C"/><use href="#q" x="1" y="16" class="D"/><use href="#q" x="2" y="16" class="K"/><use href="#q" x="3" y="16" class="G"/><use href="#q" x="4" y="16" class="K"/><use href="#q" x="5" y="16" class="E"/><use href="#q" x="6" y="16" class="C"/>
<use href="#q" y="17" class="D"/><use href="#q" x="1" y="17" class="E"/><use href="#q" x="2" y="17" class="K"/><use href="#q" x="3" y="17" class="D"/><use href="#q" x="4" y="17" class="D"/><use href="#q" x="5" y="17" class="K"/><use href="#q" x="6" y="17" class="D"/>
</g>
<text class="g2" x="2297" y="1933.5"><tspan x="2297">PMF6G05260</tspan><tspan x="2297" dy="27">PMF6G05254</tspan><tspan x="2297" dy="27">PMF6G05263</tspan><tspan x="2297" dy="27">PMF6G05265</tspan><tspan x="2297" dy="27">PMF5G04098</tspan><tspan x="2297" dy="27">PMF1G05618</tspan><tspan x="2297" dy="27">PMF6G05272</tspan><tspan x="2297" dy="27">PMF7G01678</tspan><tspan x="2297" dy="27">PMF1G05621</tspan><tspan x="2297" dy="27">PMF4G05871</tspan><tspan x="2297" dy="27">PMF7G01679</tspan><tspan x="2297" dy="27">PMF7G01681</tspan><tspan x="2297" dy="27">PMF1G05617</tspan><tspan x="2297" dy="27">PMF5G02016</tspan><tspan x="2297" dy="27">PMF2G05049</tspan><tspan x="2297" dy="27">PMF6G04905</tspan><tspan x="2297" dy="27">PMF4G03916</tspan><tspan x="2297" dy="27">PMF7G01677</tspan></text>
<rect x="2457" y="1912" width="78" height="486" fill="#3e5a6e"/><text class="cb" x="2496" y="2163">PGT1</text>
</g>

<g id="panelE">
<text class="pl" x="1316" y="2511">E</text>
<path class="dg" d="M1569 2587.5H1545V2618.1H1569M1569 2556.9H1466V2602.8H1545M1569 2526.3H1388V2579.85H1466M1569 2679.3H1517V2709.9H1569M1569 2648.7H1490V2694.6H1517M1569 2771.1H1545V2801.7H1569M1569 2740.5H1471V2786.4H1545M1569 2862.9H1517V2893.5H1569M1569 2832.3H1459V2878.2H1517M1471 2763.45H1431V2855.25H1459M1490 2671.65H1376V2809.35H1431M1388 2553.1H1330V2740.5H1376"/>
<rect x="1569" y="2511" width="44" height="122.4" fill="#a4d12d"/>
<rect x="1569" y="2633.4" width="44" height="275.4" fill="#00c6d4"/>
<text class="rs" x="1591" y="2581">I</text><text class="rs" x="1591" y="2780">II</text>
<g transform="translate(1613 2511) scale(96.3 30.6)">
<use href="#q" y="0" class="J"/><use href="#q" x="1" y="0" class="D"/><use href="#q" x="2" y="0" class="I"/><use href="#q" x="3" y="0" class="D"/><use href="#q" x="4" y="0" class="K"/><use href="#q" x="5" y="0" class="E"/><use href="#q" x="6" y="0" class="B"/>
<use href="#q" y="1" class="H"/><use href="#q" x="1" y="1" class="H"/><use href="#q" x="2" y="1" class="K"/><use href="#q" x="3" y="1" class="J"/><use href="#q" x="4" y="1" class="D"/><use href="#q" x="5" y="1" class="B"/><use href="#q" x="6" y="1" class="D"/>
<use href="#q" y="2" class="F"/><use href="#q" x="1" y="2" class="E"/><use href="#q" x="2" y="2" class="L"/><use href="#q" x="3" y="2" class="E"/><use href="#q" x="4" y="2" class="E"/><use href="#q" x="5" y="2" class="D"/><use href="#q" x="6" y="2" class="E"/>
<use href="#q" y="3" class="D"/><use href="#q" x="1" y="3" class="E"/><use href="#q" x="2" y="3" class="L"/><use href="#q" x="3" y="3" class="E"/><use href="#q" x="4" y="3" class="E"/><use href="#q" x="5" y="3" class="E"/><use href="#q" x="6" y="3" class="E"/>
<use href="#q" y="4" class="I"/><use href="#q" x="1" y="4" class="H"/><use href="#q" x="2" y="4" class="F"/><use href="#q" x="3" y="4" class="K"/><use href="#q" x="4" y="4" class="A"/><use href="#q" x="5" y="4" class="I"/><use href="#q" x="6" y="4" class="E"/>
<use href="#q" y="5" class="G"/><use href="#q" x="1" y="5" class="H"/><use href="#q" x="2" y="5" class="D"/><use href="#q" x="3" y="5" class="K"/><use href="#q" x="4" y="5" class="B"/><use href="#q" x="5" y="5" class="K"/><use href="#q" x="6" y="5" class="B"/>
<use href="#q" y="6" class="I"/><use href="#q" x="1" y="6" class="I"/><use href="#q" x="2" y="6" class="F"/><use href="#q" x="3" y="6" class="J"/><use href="#q" x="4" y="6" class="B"/><use href="#q" x="5" y="6" class="J"/><use href="#q" x="6" y="6" class="A"/>
<use href="#q" y="7" class="K"/><use href="#q" x="1" y="7" class="J"/><use href="#q" x="2" y="7" class="F"/><use href="#q" x="3" y="7" class="E"/><use href="#q" x="4" y="7" class="A"/><use href="#q" x="5" y="7" class="I"/><use href="#q" x="6" y="7" class="F"/>
<use href="#q" y="8" class="J"/><use href="#q" x="1" y="8" class="L"/><use href="#q" x="2" y="8" class="F"/><use href="#q" x="3" y="8" class="D"/><use href="#q" x="4" y="8" class="B"/><use href="#q" x="5" y="8" class="C"/><use href="#q" x="6" y="8" class="H"/>
<use href="#q" y="9" class="J"/><use href="#q" x="1" y="9" class="K"/><use href="#q" x="2" y="9" class="G"/><use href="#q" x="3" y="9" class="D"/><use href="#q" x="4" y="9" class="B"/><use href="#q" x="5" y="9" class="C"/><use href="#q" x="6" y="9" class="H"/>
<use href="#q" y="10" class="L"/><use href="#q" x="1" y="10" class="G"/><use href="#q" x="2" y="10" class="D"/><use href="#q" x="3" y="10" class="D"/><use href="#q" x="4" y="10" class="E"/><use href="#q" x="5" y="10" class="E"/><use href="#q" x="6" y="10" class="D"/>
<use href="#q" y="11" class="K"/><use href="#q" x="1" y="11" class="J"/><use href="#q" x="2" y="11" class="D"/><use href="#q" x="3" y="11" class="I"/><use href="#q" x="4" y="11" class="B"/><use href="#q" x="5" y="11" class="E"/><use href="#q" x="6" y="11" class="C"/>
<use href="#q" y="12" class="K"/><use href="#q" x="1" y="12" class="I"/><use href="#q" x="2" y="12" class="H"/><use href="#q" x="3" y="12" class="I"/><use href="#q" x="4" y="12" class="B"/><use href="#q" x="5" y="12" class="E"/><use href="#q" x="6" y="12" class="B"/>
</g>
<text class="g2" x="2297" y="2534.3"><tspan x="2297">PMF3G00548</tspan><tspan x="2297" dy="30.6">PMF5G01679</tspan><tspan x="2297" dy="30.6">PMF2G07210</tspan><tspan x="2297" dy="30.6">PMF6G06215</tspan><tspan x="2297" dy="30.6">PMF6G01168</tspan><tspan x="2297" dy="30.6">PMF7G03512</tspan><tspan x="2297" dy="30.6">PMF7G03583</tspan><tspan x="2297" dy="30.6">PMF1G05031</tspan><tspan x="2297" dy="30.6">PMF0G01739</tspan><tspan x="2297" dy="30.6">PMF7G06128</tspan><tspan x="2297" dy="30.6">PMF6G01453</tspan><tspan x="2297" dy="30.6">PMF2G03696</tspan><tspan x="2297" dy="30.6">PMF2G04282</tspan></text>
<rect x="2457" y="2511" width="78" height="398" fill="#007b3b"/><text class="cb" x="2496" y="2718">FLS</text>
</g>

<g id="panelF">
<text class="pl" x="1316" y="3022">F</text>
<path class="dg" d="M1569 3067.25H1515V3094.75H1569M1569 3122.25H1497V3149.75H1569M1515 3081H1445V3136H1497M1569 3204.75H1501V3232.25H1569M1569 3177.25H1443V3218.5H1501M1445 3108.5H1358V3197.9H1443M1569 3039.75H1330V3153.2H1358"/>
<rect x="1569" y="3026" width="44" height="27.5" fill="#a4d12d"/>
<rect x="1569" y="3053.5" width="44" height="192.5" fill="#00c6d4"/>
<text class="rs" x="1591" y="3049">I</text><text class="rs" x="1591" y="3159">II</text>
<g transform="translate(1613 3026) scale(96.3 27.5)">
<use href="#q" y="0" class="F"/><use href="#q" x="1" y="0" class="G"/><use href="#q" x="2" y="0" class="F"/><use href="#q" x="3" y="0" class="F"/><use href="#q" x="4" y="0" class="C"/><use href="#q" x="5" y="0" class="D"/><use href="#q" x="6" y="0" class="L"/>
<use href="#q" y="1" class="K"/><use href="#q" x="1" y="1" class="J"/><use href="#q" x="2" y="1" class="F"/><use href="#q" x="3" y="1" class="I"/><use href="#q" x="4" y="1" class="C"/><use href="#q" x="5" y="1" class="E"/><use href="#q" x="6" y="1" class="B"/>
<use href="#q" y="2" class="K"/><use href="#q" x="1" y="2" class="J"/><use href="#q" x="2" y="2" class="G"/><use href="#q" x="3" y="2" class="F"/><use href="#q" x="4" y="2" class="D"/><use href="#q" x="5" y="2" class="G"/><use href="#q" x="6" y="2" class="B"/>
<use href="#q" y="3" class="H"/><use href="#q" x="1" y="3" class="J"/><use href="#q" x="2" y="3" class="J"/><use href="#q" x="3" y="3" class="J"/><use href="#q" x="4" y="3" class="D"/><use href="#q" x="5" y="3" class="C"/><use href="#q" x="6" y="3" class="B"/>
<use href="#q" y="4" class="F"/><use href="#q" x="1" y="4" class="K"/><use href="#q" x="2" y="4" class="J"/><use href="#q" x="3" y="4" class="H"/><use href="#q" x="4" y="4" class="B"/><use href="#q" x="5" y="4" class="D"/><use href="#q" x="6" y="4" class="D"/>
<use href="#q" y="5" class="H"/><use href="#q" x="1" y="5" class="G"/><use href="#q" x="2" y="5" class="K"/><use href="#q" x="3" y="5" class="E"/><use href="#q" x="4" y="5" class="C"/><use href="#q" x="5" y="5" class="J"/><use href="#q" x="6" y="5" class="B"/>
<use href="#q" y="6" class="H"/><use href="#q" x="1" y="6" class="D"/><use href="#q" x="2" y="6" class="I"/><use href="#q" x="3" y="6" class="H"/><use href="#q" x="4" y="6" class="C"/><use href="#q" x="5" y="6" class="L"/><use href="#q" x="6" y="6" class="B"/>
<use href="#q" y="7" class="F"/><use href="#q" x="1" y="7" class="F"/><use href="#q" x="2" y="7" class="F"/><use href="#q" x="3" y="7" class="F"/><use href="#q" x="4" y="7" class="D"/><use href="#q" x="5" y="7" class="L"/><use href="#q" x="6" y="7" class="C"/>
</g>
<text class="g2" x="2297" y="3047.75"><tspan x="2297">PMF3G00610</tspan><tspan x="2297" dy="27.5">PMF5G04257</tspan><tspan x="2297" dy="27.5">PMF7G00847</tspan><tspan x="2297" dy="27.5">PMF3G00615</tspan><tspan x="2297" dy="27.5">PMF3G00618</tspan><tspan x="2297" dy="27.5">PMF3G00609</tspan><tspan x="2297" dy="27.5">PMF3G00612</tspan><tspan x="2297" dy="27.5">PMF3G00613</tspan></text>
<rect x="2457" y="3026" width="78" height="220" fill="#8f56a9"/><text class="cb" x="2496" y="3144">ANR</text>
</g>

<g id="panelG">
<text class="pl" x="1316" y="3361">G</text>
<path class="dg" d="M1569 3376.75H1497V3404.25H1569M1569 3459.25H1501V3486.75H1569M1569 3431.75H1457V3473H1501M1497 3390.5H1427V3452.4H1457M1569 3541.75H1507V3569.25H1569M1569 3514.25H1352V3555.5H1507M1427 3421.45H1330V3534.9H1352"/>
<rect x="1569" y="3363" width="44" height="137.5" fill="#a4d12d"/>
<rect x="1569" y="3500.5" width="44" height="82.5" fill="#00c6d4"/>
<text class="rs" x="1591" y="3441">I</text><text class="rs" x="1591" y="3551">II</text>
<g transform="translate(1613 3363) scale(96.3 27.5)">
<use href="#q" y="0" class="H"/><use href="#q" x="1" y="0" class="I"/><use href="#q" x="2" y="0" class="C"/><use href="#q" x="3" y="0" class="I"/><use href="#q" x="4" y="0" class="A"/><use href="#q" x="5" y="0" class="E"/><use href="#q" x="6" y="0" class="J"/>
<use href="#q" y="1" class="H"/><use href="#q" x="1" y="1" class="J"/><use href="#q" x="2" y="1" class="G"/><use href="#q" x="3" y="1" class="I"/><use href="#q" x="4" y="1" class="A"/><use href="#q" x="5" y="1" class="E"/><use href="#q" x="6" y="1" class="H"/>
<use href="#q" y="2" class="J"/><use href="#q" x="1" y="2" class="H"/><use href="#q" x="2" y="2" class="H"/><use href="#q" x="3" y="2" class="I"/><use href="#q" x="4" y="2" class="D"/><use href="#q" x="5" y="2" class="A"/><use href="#q" x="6" y="2" class="I"/>
<use href="#q" y="3" class="I"/><use href="#q" x="1" y="3" class="K"/><use href="#q" x="2" y="3" class="E"/><use href="#q" x="3" y="3" class="I"/><use href="#q" x="4" y="3" class="B"/><use href="#q" x="5" y="3" class="B"/><use href="#q" x="6" y="3" class="G"/>
<use href="#q" y="4" class="K"/><use href="#q" x="1" y="4" class="K"/><use href="#q" x="2" y="4" class="H"/><use href="#q" x="3" y="4" class="G"/><use href="#q" x="4" y="4" class="B"/><use href="#q" x="5" y="4" class="C"/><use href="#q" x="6" y="4" class="D"/>
<use href="#q" y="5" class="F"/><use href="#q" x="1" y="5" class="H"/><use href="#q" x="2" y="5" class="F"/><use href="#q" x="3" y="5" class="F"/><use href="#q" x="4" y="5" class="L"/><use href="#q" x="5" y="5" class="C"/><use href="#q" x="6" y="5" class="C"/>
<use href="#q" y="6" class="G"/><use href="#q" x="1" y="6" class="G"/><use href="#q" x="2" y="6" class="E"/><use href="#q" x="3" y="6" class="F"/><use href="#q" x="4" y="6" class="E"/><use href="#q" x="5" y="6" class="L"/><use href="#q" x="6" y="6" class="B"/>
<use href="#q" y="7" class="E"/><use href="#q" x="1" y="7" class="G"/><use href="#q" x="2" y="7" class="I"/><use href="#q" x="3" y="7" class="F"/><use href="#q" x="4" y="7" class="C"/><use href="#q" x="5" y="7" class="L"/><use href="#q" x="6" y="7" class="C"/>
</g>
<text class="g2" x="2297" y="3384.75"><tspan x="2297">PMF4G06705</tspan><tspan x="2297" dy="27.5">PMF5G04124</tspan><tspan x="2297" dy="27.5">PMF7G00026</tspan><tspan x="2297" dy="27.5">PMF2G07575</tspan><tspan x="2297" dy="27.5">PMF3G00849</tspan><tspan x="2297" dy="27.5">PMF1G06412</tspan><tspan x="2297" dy="27.5" font-size="19">NewGene_11877</tspan><tspan x="2297" dy="27.5">PMF4G06707</tspan></text>
<rect x="2457" y="3363" width="78" height="220" fill="#00958f"/><text class="cb" x="2496" y="3481">CHI</text>
</g>

<g id="panelH">
<text class="pl" x="2624" y="1912">H</text>
<path class="dg" d="M2780 1955H2645V1982H2780M2780 1928H2626V1968.5H2645M2780 2049H2626V2077H2780M2780 2139H2626V2167H2780M2780 2229H2626V2257H2780M2780 2319H2626V2347H2780M2780 2408H2626V2436H2780M2780 2498H2626V2526H2780"/>
<g transform="translate(2781 0) scale(102.4 1)">
<use href="#qh" y="1914" class="D"/><use href="#qh" x="1" y="1914" class="D"/><use href="#qh" x="2" y="1914" class="J"/><use href="#qh" x="3" y="1914" class="F"/><use href="#qh" x="4" y="1914" class="L"/><use href="#qh" x="5" y="1914" class="C"/><use href="#qh" x="6" y="1914" class="D"/>
<use href="#qh" y="1941" class="H"/><use href="#qh" x="1" y="1941" class="E"/><use href="#qh" x="2" y="1941" class="J"/><use href="#qh" x="3" y="1941" class="G"/><use href="#qh" x="4" y="1941" class="B"/><use href="#qh" x="5" y="1941" class="C"/><use href="#qh" x="6" y="1941" class="L"/>
<use href="#qh" y="1968" class="I"/><use href="#qh" x="1" y="1968" class="I"/><use href="#qh" x="2" y="1968" class="H"/><use href="#qh" x="3" y="1968" class="E"/><use href="#qh" x="4" y="1968" class="B"/><use href="#qh" x="5" y="1968" class="K"/><use href="#qh" x="6" y="1968" class="B"/>
<use href="#qh" y="2035" class="F"/><use href="#qh" x="1" y="2035" class="F"/><use href="#qh" x="2" y="2035" class="C"/><use href="#qh" x="3" y="2035" class="H"/><use href="#qh" x="4" y="2035" class="A"/><use href="#qh" x="5" y="2035" class="J"/><use href="#qh" x="6" y="2035" class="L"/>
<use href="#qh" y="2063" class="D"/><use href="#qh" x="1" y="2063" class="D"/><use href="#qh" x="2" y="2063" class="I"/><use href="#qh" x="3" y="2063" class="L"/><use href="#qh" x="4" y="2063" class="D"/><use href="#qh" x="5" y="2063" class="D"/><use href="#qh" x="6" y="2063" class="F"/>
<use href="#qh" y="2125" class="F"/><use href="#qh" x="1" y="2125" class="L"/><use href="#qh" x="2" y="2125" class="C"/><use href="#qh" x="3" y="2125" class="J"/><use href="#qh" x="4" y="2125" class="D"/><use href="#qh" x="5" y="2125" class="E"/><use href="#qh" x="6" y="2125" class="C"/>
<use href="#qh" y="2153" class="J"/><use href="#qh" x="1" y="2153" class="K"/><use href="#qh" x="2" y="2153" class="E"/><use href="#qh" x="3" y="2153" class="J"/><use href="#qh" x="4" y="2153" class="C"/><use href="#qh" x="5" y="2153" class="D"/><use href="#qh" x="6" y="2153" class="C"/>
<use href="#qh" y="2215" class="D"/><use href="#qh" x="1" y="2215" class="H"/><use href="#qh" x="2" y="2215" class="I"/><use href="#qh" x="3" y="2215" class="F"/><use href="#qh" x="4" y="2215" class="B"/><use href="#qh" x="5" y="2215" class="E"/><use href="#qh" x="6" y="2215" class="L"/>
<use href="#qh" y="2243" class="J"/><use href="#qh" x="1" y="2243" class="F"/><use href="#qh" x="2" y="2243" class="E"/><use href="#qh" x="3" y="2243" class="L"/><use href="#qh" x="4" y="2243" class="B"/><use href="#qh" x="5" y="2243" class="F"/><use href="#qh" x="6" y="2243" class="C"/>
<use href="#qh" y="2305" class="H"/><use href="#qh" x="1" y="2305" class="J"/><use href="#qh" x="2" y="2305" class="F"/><use href="#qh" x="3" y="2305" class="K"/><use href="#qh" x="4" y="2305" class="B"/><use href="#qh" x="5" y="2305" class="D"/><use href="#qh" x="6" y="2305" class="C"/>
<use href="#qh" y="2333" class="F"/><use href="#qh" x="1" y="2333" class="F"/><use href="#qh" x="2" y="2333" class="J"/><use href="#qh" x="3" y="2333" class="L"/><use href="#qh" x="4" y="2333" class="D"/><use href="#qh" x="5" y="2333" class="C"/><use href="#qh" x="6" y="2333" class="C"/>
<use href="#qh" y="2394" class="F"/><use href="#qh" x="1" y="2394" class="G"/><use href="#qh" x="2" y="2394" class="F"/><use href="#qh" x="3" y="2394" class="I"/><use href="#qh" x="4" y="2394" class="L"/><use href="#qh" x="5" y="2394" class="E"/><use href="#qh" x="6" y="2394" class="A"/>
<use href="#qh" y="2422" class="E"/><use href="#qh" x="1" y="2422" class="E"/><use href="#qh" x="2" y="2422" class="G"/><use href="#qh" x="3" y="2422" class="D"/><use href="#qh" x="4" y="2422" class="E"/><use href="#qh" x="5" y="2422" class="D"/><use href="#qh" x="6" y="2422" class="L"/>
<use href="#qh" y="2484" class="D"/><use href="#qh" x="1" y="2484" class="E"/><use href="#qh" x="2" y="2484" class="G"/><use href="#qh" x="3" y="2484" class="F"/><use href="#qh" x="4" y="2484" class="L"/><use href="#qh" x="5" y="2484" class="D"/><use href="#qh" x="6" y="2484" class="E"/>
<use href="#qh" y="2512" class="F"/><use href="#qh" x="1" y="2512" class="D"/><use href="#qh" x="2" y="2512" class="G"/><use href="#qh" x="3" y="2512" class="G"/><use href="#qh" x="4" y="2512" class="A"/><use href="#qh" x="5" y="2512" class="J"/><use href="#qh" x="6" y="2512" class="K"/>
<use href="#qh" y="2570" class="H"/><use href="#qh" x="1" y="2570" class="I"/><use href="#qh" x="2" y="2570" class="E"/><use href="#qh" x="3" y="2570" class="H"/><use href="#qh" x="4" y="2570" class="G"/><use href="#qh" x="5" y="2570" class="A"/><use href="#qh" x="6" y="2570" class="J"/>
<use href="#qh" y="2627" class="K"/><use href="#qh" x="1" y="2627" class="J"/><use href="#qh" x="2" y="2627" class="E"/><use href="#qh" x="3" y="2627" class="G"/><use href="#qh" x="4" y="2627" class="G"/><use href="#qh" x="5" y="2627" class="D"/><use href="#qh" x="6" y="2627" class="B"/>
<use href="#qh" y="2684" class="F"/><use href="#qh" x="1" y="2684" class="J"/><use href="#qh" x="2" y="2684" class="F"/><use href="#qh" x="3" y="2684" class="K"/><use href="#qh" x="4" y="2684" class="B"/><use href="#qh" x="5" y="2684" class="C"/><use href="#qh" x="6" y="2684" class="H"/>
<use href="#qh" y="2741" class="K"/><use href="#qh" x="1" y="2741" class="J"/><use href="#qh" x="2" y="2741" class="E"/><use href="#qh" x="3" y="2741" class="I"/><use href="#qh" x="4" y="2741" class="C"/><use href="#qh" x="5" y="2741" class="C"/><use href="#qh" x="6" y="2741" class="D"/>
</g>
<g class="g2">
<text x="3509" y="1936">PMF3G04919</text><text x="3509" y="1963">PMF1G03392</text><text x="3509" y="1990">PMF6G06114</text>
<text x="3509" y="2057">PMF2G03808</text><text x="3509" y="2085">PMF7G02970</text>
<text x="3509" y="2147">PMF3G01479</text><text x="3509" y="2175">PMF5G02209</text>
<text x="3509" y="2237">PMF2G01851</text><text x="3509" y="2265">PMF5G05634</text>
<text x="3509" y="2327">PMF2G04954</text><text x="3509" y="2355">PMF2G04967</text>
<text x="3509" y="2416">PMF1G05124</text><text x="3509" y="2444">PMF6G05980</text>
<text x="3509" y="2506">PMF5G03990</text><text x="3509" y="2534">PMF6G04249</text>
<text x="3509" y="2592">PMF2G00038</text>
<text x="3509" y="2649">PMF7G05821</text>
<text x="3509" y="2706">PMF3G00316</text>
<text x="3509" y="2763">PMF1G01041</text>
</g>
<rect x="3664" y="1914" width="79" height="82" fill="#5b3fa0"/><text class="cb" x="3703.5" y="1962" font-size="20" textLength="70" lengthAdjust="spacingAndGlyphs">CYP73A</text>
<rect x="3664" y="2035" width="79" height="56" fill="#6b7d3a"/><text class="cb" x="3703.5" y="2070" font-size="18" textLength="72" lengthAdjust="spacingAndGlyphs">CCoAOMT</text>
<rect x="3664" y="2125" width="79" height="56" fill="#d95a7a"/><text class="cb" x="3703.5" y="2160" font-size="20" textLength="70" lengthAdjust="spacingAndGlyphs">CYP75A</text>
<rect x="3664" y="2215" width="79" height="56" fill="#4f5a35"/><text class="cb" x="3703.5" y="2250" font-size="20" textLength="72" lengthAdjust="spacingAndGlyphs">CYP75B1</text>
<rect x="3664" y="2305" width="79" height="56" fill="#b05a0a"/><text class="cb" x="3703.5" y="2338" font-size="14" textLength="72" lengthAdjust="spacingAndGlyphs">CYP93B2_16</text>
<rect x="3664" y="2394" width="79" height="56" fill="#0a9a5a"/><text class="cb" x="3703.5" y="2429" font-size="20" textLength="70" lengthAdjust="spacingAndGlyphs">CYP98A</text>
<rect x="3664" y="2484" width="79" height="56" fill="#6068a8"/><text class="cb" x="3703.5" y="2519" font-size="22">DFR</text>
<rect x="3664" y="2568" width="79" height="30" fill="#b82060"/><text class="cb" x="3703.5" y="2591" font-size="21">ANS</text>
<rect x="3664" y="2625" width="79" height="32" fill="#2a7a0a"/><text class="cb" x="3703.5" y="2649" font-size="20" textLength="68" lengthAdjust="spacingAndGlyphs">C12RT1</text>
<rect x="3664" y="2682" width="79" height="32" fill="#5a7a60"/><text class="cb" x="3703.5" y="2706" font-size="21">F3H</text>
<rect x="3664" y="2739" width="79" height="32" fill="#b0aa10"/><text class="cb" x="3703.5" y="2763" font-size="20" textLength="66" lengthAdjust="spacingAndGlyphs">NOMT</text>
<g class="lg" text-anchor="middle">
<text x="2832" y="2810">CK</text><text x="2934" y="2810">CdCl<tspan font-size="14" dy="3">2</tspan></text><text x="3037" y="2810">NaCl</text><text x="3139" y="2810">PEG</text><text x="3242" y="2810">WL</text><text x="3344" y="2810">Heat</text><text x="3446" y="2810">Cold</text>
</g>
<g fill="#eef3f3" stroke="#231815" stroke-width="2.5">
<rect x="2781" y="2817" width="102.4" height="28"/><rect x="2883.4" y="2817" width="102.4" height="28"/><rect x="2985.8" y="2817" width="102.4" height="28"/><rect x="3088.2" y="2817" width="102.4" height="28"/><rect x="3190.6" y="2817" width="102.4" height="28"/><rect x="3293" y="2817" width="102.4" height="28"/><rect x="3395.4" y="2817" width="102.4" height="28"/>
</g>
<text class="lg" x="3512" y="2840">Gene ID</text>
<rect x="3665" y="2817" width="79" height="29" fill="#1a1010"/><text class="cb" x="3704.5" y="2840" font-size="20">Class</text>
<rect x="3780" y="2581" width="42" height="188" fill="url(#cbar)"/>
<path d="M3822 2583H3829M3822 2628H3829M3822 2675H3829M3822 2722H3829M3822 2767H3829" stroke="#333" stroke-width="2"/>
<g class="lg" font-size="20"><text x="3833" y="2590">2</text><text x="3833" y="2635">1</text><text x="3833" y="2682">0</text><text x="3831" y="2729">-1</text><text x="3831" y="2774">-2</text></g>
</g>
</svg>
